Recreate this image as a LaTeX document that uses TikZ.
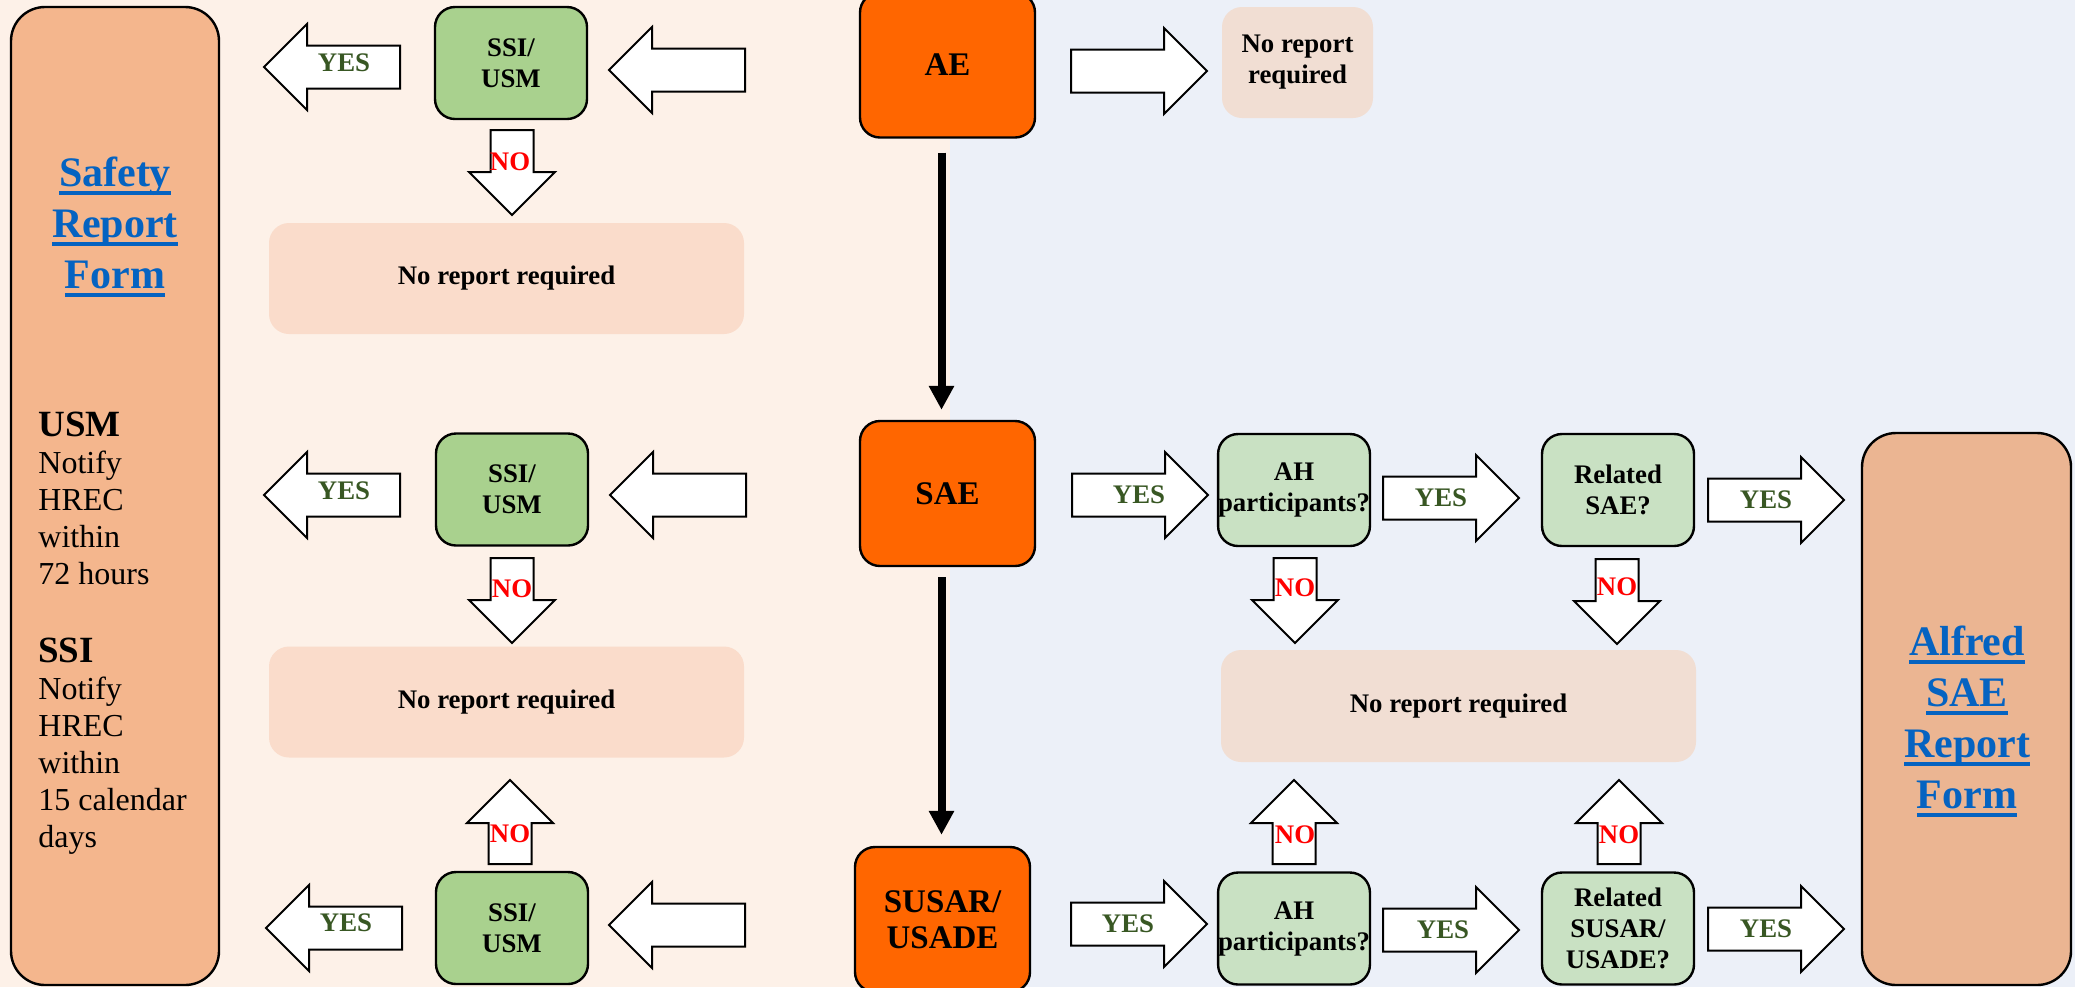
\documentclass[tikz,border=0pt]{standalone}
\usepackage{fontspec}
\setmainfont{Liberation Serif}
\usetikzlibrary{arrows.meta}

\newsavebox{\ulbox}
\newcommand{\ulword}[1]{\sbox{\ulbox}{#1}\rlap{\rule[-4.3pt]{\wd\ulbox}{2pt}}\usebox{\ulbox}}

\tikzset{
  pics/fat/.style={code={
    \draw[fill=white, draw=black, line width=1pt]
      (0,-21.5) -- ({#1-43},-21.5) -- ({#1-43},-43) -- (#1,0)
      -- ({#1-43},43) -- ({#1-43},21.5) -- (0,21.5) -- cycle;
  }}
}

\begin{document}
\begin{tikzpicture}[x=0.5pt, y=-0.5pt, >={Triangle[length=12pt, width=12pt]},
    every node/.style={align=center, inner sep=0pt},
    small/.style={font=\fontsize{13.4}{15.5}\selectfont\bfseries},
    box/.style={small, draw=black, line width=1.2pt, rounded corners=10pt},
    ssi/.style={box, fill=ssibg, minimum width=76pt, minimum height=56pt},
    ask/.style={box, fill=askbg, minimum width=75pt, minimum height=56pt},
    event/.style={box, fill=eventbg, minimum width=87.5pt, minimum height=72.5pt,
      font=\fontsize{16.5}{18}\selectfont\bfseries},
    none/.style={small, rounded corners=10pt, minimum height=55.5pt},
    form/.style={draw=black, line width=1.2pt, rounded corners=17pt, minimum width=104pt},
    link/.style={text=linkblue, font=\fontsize{21}{25.5}\selectfont\bfseries},
    note/.style={align=left, anchor=north west, font=\fontsize{16}{18.5}\selectfont},
    yes/.style={small, text=yesgreen},
    no/.style={small, text=red},
    flow/.style={->, line width=4pt}]
      \definecolor{bgleft}{HTML}{FDF1E8} \definecolor{bgright}{HTML}{ECF0F8}
      \definecolor{ssibg}{HTML}{A9D18E} \definecolor{askbg}{HTML}{C9E1C3}
      \definecolor{eventbg}{HTML}{FF6600} \definecolor{linkblue}{HTML}{0563C1}
      \definecolor{noneleft}{HTML}{FADCCB} \definecolor{noneright}{HTML}{F1DED3}
      \definecolor{safetybg}{HTML}{F4B68D} \definecolor{alfredbg}{HTML}{EBB592}
      \definecolor{yesgreen}{HTML}{385723}

      \useasboundingbox (0,0) rectangle (2075,987);
      \fill[bgleft] (0,0) rectangle (950,987);
      \fill[bgright] (950,0) rectangle (2075,987);

      \node[form, fill=safetybg, minimum height=489pt] (safety) at (115,496) {};
      \node[form, fill=alfredbg, minimum height=276pt, minimum width=104.5pt] (alfred) at (1966.5,709) {};
      \node[link] (safetyLink) at (115,227) {\ulword{Safety}\\\ulword{Report}\\\ulword{Form}};
      \node[link] (alfredLink) at (1967,721) {\ulword{Alfred}\\\ulword{SAE}\\\ulword{Report}\\\ulword{Form}};
      \node[note] (usmNote) at (38,412) {{\bfseries\fontsize{18.5}{18.5}\selectfont USM}\\Notify\\HREC\\within\\72 hours};
      \node[note] (ssiNote) at (38,638) {{\bfseries\fontsize{18.5}{18.5}\selectfont SSI}\\Notify\\HREC\\within\\15 calendar\\days};

      \node[event] (ae) at (947.5,65) {AE};
      \node[event] (sae) at (947.5,493.5) {SAE};
      \node[event] (susar) at (942.5,919.5) {SUSAR/\\USADE};

      \node[ssi] (ssiA) at (511,63) {SSI/\\USM};
      \node[ssi] (ssiB) at (512,489.5) {SSI/\\USM};
      \node[ssi] (ssiC) at (512,928) {SSI/\\USM};
      \node[none, fill=noneleft, minimum width=237.5pt] (noneA) at (506.5,278.5) {No report required};
      \node[none, fill=noneleft, minimum width=237.5pt] (noneB) at (506.5,702) {No report required};

      \node[none, fill=noneright, minimum width=75.5pt] (noneTop) at (1297.5,62.5) {No report\\required};
      \node[ask] (ahA) at (1294,490) {AH\\participants?};
      \node[ask, minimum width=76pt] (relA) at (1618,490) {Related\\SAE?};
      \node[none, fill=noneright, minimum width=237.5pt, minimum height=56pt] (noneC) at (1458.5,706) {No report required};
      \node[ask] (ahB) at (1294,928.5) {AH\\participants?};
      \node[ask, minimum width=76pt] (relB) at (1618,928.5) {Related\\SUSAR/\\USADE?};

      \draw[flow, shorten <=7pt, shorten >=5pt] ([xshift=-3pt]ae.south) -- ([xshift=-3pt]sae.north);
      \draw[flow, shorten <=5pt, shorten >=5.5pt] ([xshift=-3pt]sae.south) -- ([xshift=-0.5pt]susar.north);

      % block arrows
      \foreach \x/\y in {400/67, 400/495, 402/928, 745/70, 746/495, 745/925}
        \pic[rotate=180] at (\x,\y) {fat=136};
      \foreach \x/\y in {1071/71, 1072/495, 1383/498, 1708/500, 1071/924, 1383/930, 1708/929}
        \pic at (\x,\y) {fat=136};
      \foreach \x/\y in {512/130, 512/558, 1295/558, 1617/559}
        \pic[rotate=-90] at (\x,\y) {fat=85};
      \foreach \x/\y in {510/864, 1294/864, 1619/864}
        \pic[rotate=90] at (\x,\y) {fat=84};

      \foreach \x/\y/\n in {344/63/yesA, 344/491/yesB, 346/923/yesC, 1139/495/yesD,
                            1441/498/yesE, 1766/500/yesF, 1128/924/yesG, 1443/930/yesH, 1766/929/yesI}
        \node[yes] (\n) at (\x,\y) {YES};
      \foreach \x/\y/\n in {510/162/noA, 512/589/noB, 510/834/noC, 1295/588/noD,
                            1617/587/noE, 1295/835/noF, 1619/835/noG}
        \node[no] (\n) at (\x,\y) {NO};
    \end{tikzpicture}
\end{document}
